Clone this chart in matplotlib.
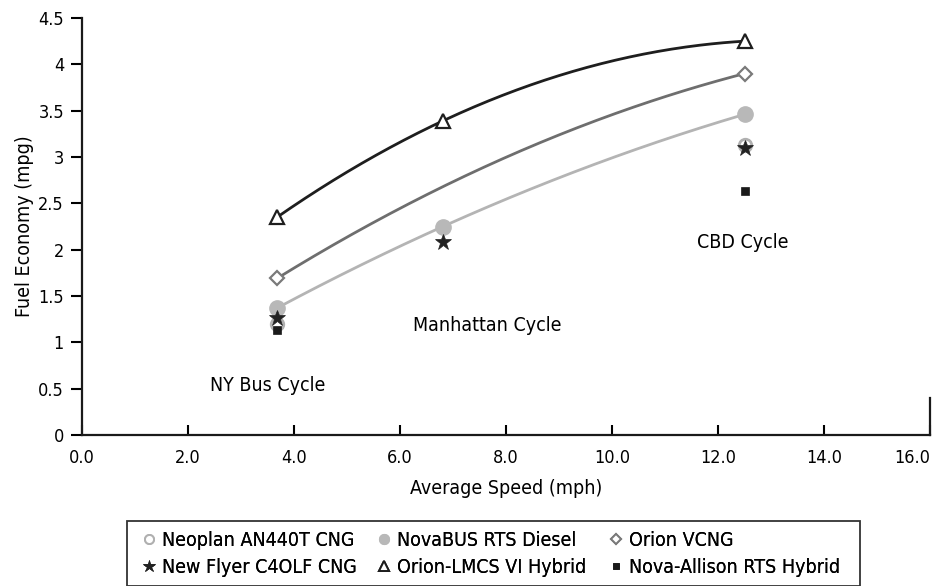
import numpy as np
import matplotlib
matplotlib.use("Agg")
import matplotlib.pyplot as plt
from matplotlib.patches import Rectangle

plt.rcParams['font.family'] = ['DejaVu Sans']
plt.rcParams['font.stretch'] = 'condensed'

# Average speed of each drive cycle (mph)
cycles = ["NY Bus Cycle", "Manhattan Cycle", "CBD Cycle"]
speeds = [3.68, 6.81, 12.5]

# Fuel economy (mpg); None where a bus was not tested on that cycle
neoplan = [1.20, None, 3.13]
novabus = [1.37, 2.25, 3.46]
orion_vcng = [1.69, None, 3.90]
new_flyer = [1.26, 2.08, 3.10]
orion_lmcs = [2.35, 3.39, 4.25]
nova_allison = [1.13, None, 2.63]

# Trend values used for the Orion VCNG curve
orion_vcng_trend = [1.69, 2.68, 3.90]

x_ticks = [0, 2, 4, 6, 8, 10, 12, 14, 16]
y_ticks = [0, 0.5, 1, 1.5, 2, 2.5, 3, 3.5, 4, 4.5]

W, H = 941, 586
FS = 14
TFS = 13

fig = plt.figure(figsize=(W / 100, H / 100), dpi=100)
ax = fig.add_axes([82 / W, 1 - 435 / H, (930 - 82) / W, (435 - 18) / H])


def pts(vals):
    xs = [s for s, v in zip(speeds, vals) if v is not None]
    ys = [v for v in vals if v is not None]
    return xs, ys


def trend(vals, color):
    xs, ys = pts(vals)
    c = np.polyfit(xs, ys, 2)
    xx = np.linspace(min(xs), max(xs), 200)
    ax.plot(xx, np.polyval(c, xx), color=color, lw=2.0, zorder=2)


trend(orion_lmcs, "#1e1e1e")
trend(orion_vcng_trend, "#6e6e6e")
trend(novabus, "#b4b4b4")

series = [
    ("Neoplan AN440T CNG", neoplan,
     dict(marker="o", ms=9, mfc="white", mec="#b0b0b0", mew=2.0), 3, 6.5),
    ("New Flyer C4OLF CNG", new_flyer,
     dict(marker="*", ms=12, mfc="#222222", mec="#222222", mew=0.5), 5, 9),
    ("NovaBUS RTS Diesel", novabus,
     dict(marker="o", ms=11, mfc="#b8b8b8", mec="#b8b8b8", mew=1), 4, 7),
    ("Orion-LMCS VI Hybrid", orion_lmcs,
     dict(marker="^", ms=10, mfc="white", mec="#1e1e1e", mew=1.6), 4, 7),
    ("Orion VCNG", orion_vcng,
     dict(marker="D", ms=7, mfc="white", mec="#7a7a7a", mew=1.6), 4, 5.5),
    ("Nova-Allison RTS Hybrid", nova_allison,
     dict(marker="s", ms=6, mfc="#1a1a1a", mec="#1a1a1a", mew=0.5), 4, 5),
]

handles = []
for name, vals, style, z, leg_ms in series:
    xs, ys = pts(vals)
    ax.plot(xs, ys, ls="none", zorder=z, **style)
    leg_style = dict(style)
    leg_style["ms"] = leg_ms
    leg_style["mew"] = min(style["mew"], 1.4)
    h, = ax.plot([], [], ls="none", label=name, **leg_style)
    handles.append(h)

# Cycle labels
ax.text(2.42, 0.53, cycles[0], fontsize=FS, va="center", ha="left")
ax.text(6.25, 1.18, cycles[1], fontsize=FS, va="center", ha="left")
ax.text(11.6, 2.08, cycles[2], fontsize=FS, va="center", ha="left")

ax.set_xlim(0, 16)
ax.set_ylim(0, 4.5)
ax.set_xticks(x_ticks)
ax.set_xticklabels([f"{t:.1f}" for t in x_ticks])
ax.set_yticks(y_ticks)
ax.set_yticklabels([f"{t:g}" for t in y_ticks])
# keep the last x tick label inside the canvas
ax.get_xticklabels()[-1].set_horizontalalignment("right")
ax.get_xticklabels()[-1].set_x(16.2)

ax.spines["top"].set_visible(False)
ax.spines["right"].set_bounds(0, 0.4)
for s in ["left", "bottom", "right"]:
    ax.spines[s].set_linewidth(1.6)
    ax.spines[s].set_color("#1a1a1a")

ax.tick_params(axis="y", direction="out", length=8, width=1.5, labelsize=TFS, pad=5)
ax.tick_params(axis="x", direction="in", length=7, width=1.5, labelsize=TFS, pad=10)

ax.set_xlabel("Average Speed (mph)", fontsize=FS, labelpad=9)
ax.set_ylabel("Fuel Economy (mpg)", fontsize=FS, labelpad=3)

# Legend: framed box with three equal-width columns
box_l, box_r, box_t = 127, 860, 521
fig.add_artist(Rectangle((box_l / W, 0), (box_r - box_l) / W, 1 - box_t / H,
                         transform=fig.transFigure, fill=False,
                         edgecolor="#333333", lw=1.3, zorder=10))
col_lefts = [141, 376, 608]
rows_mid = 554
for i, left in enumerate(col_lefts):
    leg = fig.legend(handles=handles[2 * i:2 * i + 2], loc="center left",
                     bbox_to_anchor=(left / W, 1 - rows_mid / H),
                     frameon=False, fontsize=FS, handlelength=0.8,
                     handletextpad=0.3, labelspacing=0.42, borderpad=0,
                     borderaxespad=0)
    fig.add_artist(leg)

fig.savefig("out.png", dpi=100)
